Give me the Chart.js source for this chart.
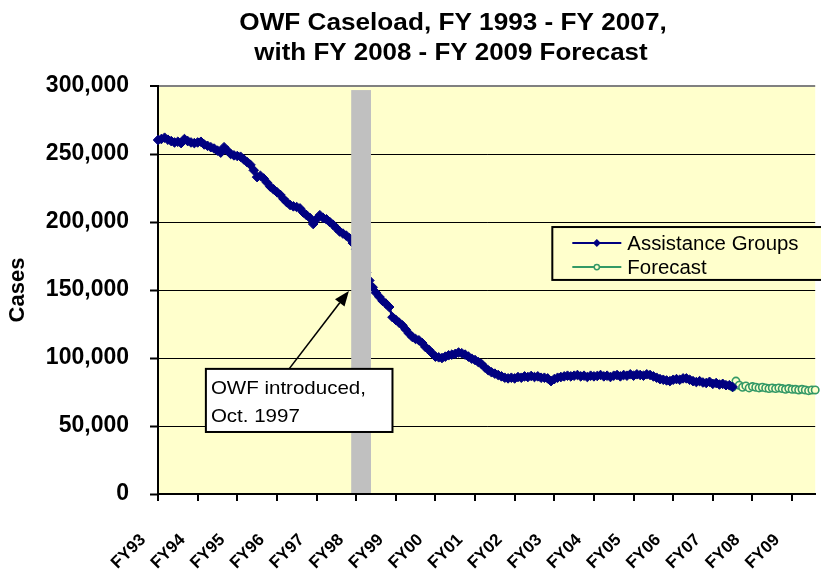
<!DOCTYPE html>
<html>
<head>
<meta charset="utf-8">
<script src="https://cdn.jsdelivr.net/npm/chart.js@4.4.1/dist/chart.umd.min.js"></script>
<style>
html,body{margin:0;padding:0;background:#fff;overflow:hidden;}
canvas{display:block;}
</style>
</head>
<body>
<canvas id="c" width="821" height="569"></canvas>
<script>
// ---------- data ----------
const titleLines = ['OWF Caseload, FY 1993 - FY 2007,', 'with FY 2008 - FY 2009 Forecast'];
const fyLabels = ['FY93','FY94','FY95','FY96','FY97','FY98','FY99','FY00','FY01','FY02','FY03','FY04','FY05','FY06','FY07','FY08','FY09'];
const monthsShown = 200;
const seriesNames = ['Assistance Groups', 'Forecast'];
const assistanceGroups = [
  260300, 261000, 262000, 260500, 259500, 258500, 259000, 258000, 261000, 259500,
  258500, 258000, 258500, 259000, 257000, 256000, 255000, 254000, 252500, 251000,
  255000, 252500, 250000, 249000, 248500, 248000, 246000, 244000, 242000, 238000,
  233000, 234000, 232000, 229000, 226000, 224000, 222000, 220000, 217000, 214500,
  212500, 211500, 211000, 210000, 207000, 205000, 203000, 198500, 202000, 205000,
  203000, 202000, 200000, 198000, 195500, 193000, 191500, 190000, 188000, 184500,
  180000, 175000, 169000, 163000, 157000, 152000, 148000, 145000, 142000, 140000,
  137500, 130000, 128000, 126000, 124000, 121000, 118000, 115500, 114000, 113000,
  111000, 108000, 106000, 103500, 101000, 100500, 100000, 101000, 102000, 102500,
  103000, 104000, 103500, 102500, 101000, 99500, 98500, 97000, 95500, 93000,
  91000, 89500, 88500, 87500, 86500, 85500, 85000, 85500, 85000, 86000,
  85500, 86500, 86000, 86800, 86000, 86500, 85500, 85500, 85000, 83000,
  84500, 85500, 86000, 86500, 87000, 86500, 87000, 87500, 86500, 87000,
  86000, 87000, 86500, 86800, 87500, 86500, 87000, 86000, 87000, 87500,
  86500, 87500, 87000, 88000, 87000, 88000, 87500, 87000, 88000, 87500,
  86500, 85500, 84500, 84000, 83500, 83000, 84000, 84500, 84000, 85000,
  85000, 84000, 83000, 82300, 83000, 82000, 81600, 82500, 81000, 81600,
  80500, 81000, 80000, 80000, 78700
];
const forecastStart = 174;
const forecastValues = [
  78700, 83000, 80000, 78500, 79500, 78000, 79000, 78500, 78000, 78500,
  78000, 77500, 78000, 77500, 78000, 77500, 77000, 77500, 77000, 77000,
  76500, 77000, 76500, 76000, 76500, 76500
];
const yTickValues = [0, 50000, 100000, 150000, 200000, 250000, 300000];
const yAxisTitle = 'Cases';
const noteLines = ['OWF introduced,', 'Oct. 1997'];
const owfMonth = 61.4;   // category position of the Oct. 1997 marker bar

// ---------- derived ----------
const categories = Array.from({length: monthsShown}, (_, i) => (i % 12 === 0 && fyLabels[i / 12]) ? fyLabels[i / 12] : '');
const forecastData = Array(forecastStart).fill(null).concat(forecastValues);

const FONT = "'Liberation Sans', Arial, sans-serif";
const NAVY = '#000080';
const GREEN = '#339966';
const PLOT_BG = '#FFFFCC';

function stretchedText(ctx, text, x, y, align, sx) {
  ctx.save();
  ctx.translate(x, y);
  ctx.scale(sx, 1);
  ctx.textAlign = align;
  ctx.fillText(text, 0, 0);
  ctx.restore();
}

const bgPlugin = {
  id: 'plotBg',
  beforeDraw(chart) {
    const {ctx, chartArea: a} = chart;
    ctx.save();
    ctx.fillStyle = PLOT_BG;
    ctx.fillRect(a.left, a.top, a.right - a.left, a.bottom - a.top);
    ctx.restore();
  }
};

const overlayPlugin = {
  id: 'overlay',
  afterDatasetsDraw(chart) {
    const {ctx} = chart;
    const xs = chart.scales.x, ys = chart.scales.y;
    ctx.save();
    // grey marker bar (Oct. 1997)
    const bx1 = xs.getPixelForValue(owfMonth - 2.9);
    const bx2 = xs.getPixelForValue(owfMonth + 3.1);
    const by1 = ys.getPixelForValue(297000);
    const by2 = ys.getPixelForValue(0) - 1;
    ctx.fillStyle = '#C0C0C0';
    ctx.fillRect(bx1, by1, bx2 - bx1, by2 - by1);

    // arrow
    const ax1 = xs.getPixelForValue(39.7), ay1 = ys.getPixelForValue(92000);
    const ax2 = xs.getPixelForValue(57.8), ay2 = ys.getPixelForValue(149300);
    const ang = Math.atan2(ay2 - ay1, ax2 - ax1);
    const headLen = 15, headW = 6;
    const hx = ax2 - headLen * Math.cos(ang), hy = ay2 - headLen * Math.sin(ang);
    ctx.strokeStyle = '#000';
    ctx.lineWidth = 1.6;
    ctx.beginPath();
    ctx.moveTo(ax1, ay1);
    ctx.lineTo(hx, hy);
    ctx.stroke();
    ctx.fillStyle = '#000';
    ctx.beginPath();
    ctx.moveTo(ax2, ay2);
    ctx.lineTo(hx + headW * Math.sin(ang), hy - headW * Math.cos(ang));
    ctx.lineTo(hx - headW * Math.sin(ang), hy + headW * Math.cos(ang));
    ctx.closePath();
    ctx.fill();

    // note box
    const nx1 = xs.getPixelForValue(14.5), nx2 = xs.getPixelForValue(71.0);
    const ny1 = ys.getPixelForValue(92000), ny2 = ys.getPixelForValue(45600);
    ctx.fillStyle = '#FFFFFF';
    ctx.fillRect(nx1, ny1, nx2 - nx1, ny2 - ny1);
    ctx.strokeStyle = '#000';
    ctx.lineWidth = 2;
    ctx.strokeRect(nx1, ny1, nx2 - nx1, ny2 - ny1);
    ctx.fillStyle = '#000';
    ctx.font = '19px ' + FONT;
    ctx.textBaseline = 'alphabetic';
    stretchedText(ctx, noteLines[0], nx1 + 5, ny1 + 25, 'left', 1.08);
    stretchedText(ctx, noteLines[1], nx1 + 5, ny1 + 53, 'left', 1.08);

    // legend box
    const lx1 = xs.getPixelForValue(119.4);
    const ly1 = ys.getPixelForValue(196300), ly2 = ys.getPixelForValue(157400);
    const lx2 = chart.chartArea.right + 20;
    ctx.fillStyle = PLOT_BG;
    ctx.fillRect(lx1, ly1, lx2 - lx1, ly2 - ly1);
    ctx.strokeStyle = '#000';
    ctx.lineWidth = 2;
    ctx.strokeRect(lx1, ly1, lx2 - lx1, ly2 - ly1);
    const ds = chart.data.datasets;
    const rows = [ly1 + 16, ly1 + 40];
    ds.forEach((d, k) => {
      const yy = rows[k];
      const sx1 = lx1 + 20, sx2 = lx1 + 69, mx = (sx1 + sx2) / 2;
      ctx.strokeStyle = d.borderColor;
      ctx.lineWidth = 2;
      ctx.beginPath(); ctx.moveTo(sx1, yy); ctx.lineTo(sx2, yy); ctx.stroke();
      if (d.pointStyle === 'rectRot') {
        ctx.fillStyle = d.pointBackgroundColor;
        ctx.beginPath();
        ctx.moveTo(mx, yy - 4); ctx.lineTo(mx + 4, yy); ctx.lineTo(mx, yy + 4); ctx.lineTo(mx - 4, yy);
        ctx.closePath(); ctx.fill();
      } else {
        ctx.fillStyle = d.pointBackgroundColor;
        ctx.strokeStyle = d.pointBorderColor;
        ctx.lineWidth = 1.5;
        ctx.beginPath(); ctx.arc(mx, yy, 2.6, 0, Math.PI * 2); ctx.fill(); ctx.stroke();
      }
      ctx.fillStyle = '#000';
      ctx.font = '20px ' + FONT;
      ctx.textBaseline = 'middle';
      stretchedText(ctx, d.label, lx1 + 75, yy + 1, 'left', 1.02);
    });

    // title
    ctx.fillStyle = '#000';
    ctx.font = 'bold 24px ' + FONT;
    ctx.textBaseline = 'alphabetic';
    stretchedText(ctx, titleLines[0], 453, 30, 'center', 1.09);
    stretchedText(ctx, titleLines[1], 451, 60, 'center', 1.08);
    ctx.restore();
  }
};

new Chart(document.getElementById('c'), {
  type: 'line',
  data: {
    labels: categories,
    datasets: [
      {
        label: seriesNames[0],
        data: assistanceGroups,
        borderColor: NAVY,
        backgroundColor: NAVY,
        borderWidth: 2.5,
        pointStyle: 'rectRot',
        pointRadius: 4.8,
        pointBackgroundColor: NAVY,
        pointBorderColor: NAVY,
        pointBorderWidth: 1,
        tension: 0,
        spanGaps: false
      },
      {
        label: seriesNames[1],
        data: forecastData,
        borderColor: GREEN,
        backgroundColor: GREEN,
        borderWidth: 2,
        pointStyle: 'circle',
        pointRadius: 3.7,
        pointBackgroundColor: PLOT_BG,
        pointBorderColor: GREEN,
        pointBorderWidth: 1.6,
        tension: 0
      }
    ]
  },
  options: {
    responsive: false,
    animation: false,
    events: [],
    layout: { padding: { top: 86, left: 5, right: 0, bottom: 0 } },
    plugins: {
      legend: { display: false },
      title: { display: false },
      tooltip: { enabled: false }
    },
    scales: {
      x: {
        type: 'category',
        offset: false,
        afterFit: (s) => { s.height = 75; s.paddingRight = 0; s.paddingLeft = 0; },
        grid: { drawOnChartArea: false, drawTicks: true, tickLength: 7, color: '#000', lineWidth: 2 },
        border: { display: true, color: '#000', width: 2 },
        ticks: {
          autoSkip: false,
          minRotation: 45,
          maxRotation: 45,
          padding: 29,
          labelOffset: -15,
          color: '#000',
          font: { family: FONT, weight: 'bold', size: 17 },
          callback: (v, i) => categories[i] ? categories[i] : null
        }
      },
      y: {
        min: 0,
        max: 300000,
        afterFit: (s) => { s.width = 153; },
        afterBuildTicks: (scale) => { scale.ticks = yTickValues.map(v => ({ value: v })); },
        grid: {
          color: (c) => (c.tick && c.tick.value === 300000) ? '#808080' : '#000',
          lineWidth: (c) => (c.tick && c.tick.value === 300000) ? 2 : 1,
          tickColor: '#000',
          tickLength: 8,
          tickWidth: 2
        },
        border: { display: true, color: '#000', width: 2 },
        ticks: {
          padding: 21,
          color: '#000',
          font: { family: FONT, weight: 'bold', size: 23 },
          callback: (v) => Number(v).toLocaleString('en-US')
        },
        title: {
          display: true,
          text: yAxisTitle,
          color: '#000',
          font: { family: FONT, weight: 'bold', size: 22 },
          padding: { top: 0, bottom: 10 }
        }
      }
    }
  },
  plugins: [bgPlugin, overlayPlugin]
});
</script>
</body>
</html>
